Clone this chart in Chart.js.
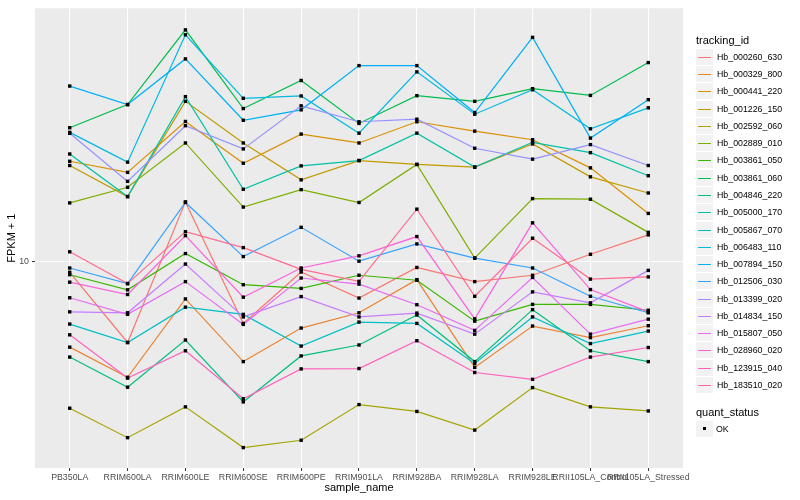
<!DOCTYPE html>
<html>
<head>
<meta charset="utf-8">
<script src="https://cdn.jsdelivr.net/npm/chart.js@4.4.1/dist/chart.umd.min.js"></script>
<style>
  body { margin: 0; background: #fff; }
  #wrap { position: relative; width: 800px; height: 500px; font-family: "Liberation Sans", Arial, sans-serif; }
  #plot { position: absolute; left: 0; top: 0; }
  .ltitle { position: absolute; left: 696px; font-size: 11px; line-height: 13px; color: #000; white-space: nowrap; }
  .key { position: absolute; left: 696px; width: 17px; height: 16px; background: #F2F2F2; }
  .key span { position: absolute; left: 2px; right: 2px; top: 8px; height: 1px; }
  .key i { position: absolute; left: 7px; top: 6px; width: 3px; height: 3px; background: #000; }
  .ltext { position: absolute; left: 717px; font-size: 8.8px; line-height: 10px; color: #000; white-space: nowrap; }
</style>
</head>
<body>
<div id="wrap">
  <canvas id="plot" width="800" height="500"></canvas>
  <div id="legend"></div>
</div>
<script>
const samples = ["PB350LA", "RRIM600LA", "RRIM600LE", "RRIM600SE", "RRIM600PE", "RRIM901LA",
    "RRIM928BA", "RRIM928LA", "RRIM928LE", "RRII105LA_Control", "RRII105LA_Stressed"];

const trackingIds = ["Hb_000260_630", "Hb_000329_800", "Hb_000441_220", "Hb_001226_150", "Hb_002592_060",
    "Hb_002889_010", "Hb_003861_050", "Hb_003861_060", "Hb_004846_220", "Hb_005000_170",
    "Hb_005867_070", "Hb_006483_110", "Hb_007894_150", "Hb_012506_030", "Hb_013399_020",
    "Hb_014834_150", "Hb_015807_050", "Hb_028960_020", "Hb_123915_040", "Hb_183510_020"];

// ggplot default hue palette, 20 levels
const hueColors = ["#F8766D", "#EA8331", "#D89000", "#C09B00", "#A3A500", "#7CAE00", "#39B600", "#00BB4E",
    "#00BF7D", "#00C1A3", "#00BFC4", "#00BAE0", "#00B0F6", "#35A2FF", "#9590FF", "#C77CFF",
    "#E76BF3", "#FA62DB", "#FF62BC", "#FF6C91"];

// FPKM + 1, one value per sample
const hb000260_630 = [9.59, 7.31, 12.59, 7.87, 9.60, 8.68, 9.77, 9.25, 9.48, 10.28, 11.08];
const hb000329_800 = [7.18, 6.39, 8.65, 6.79, 7.73, 8.20, 9.32, 6.64, 7.79, 7.45, 7.80];
const hb000441_220 = [14.73, 14.11, 17.18, 14.62, 16.36, 15.81, 17.16, 16.55, 16.01, 14.36, 12.04];
const hb001226_150 = [14.49, 12.85, 18.57, 15.81, 13.71, 14.77, 14.55, 14.40, 15.75, 13.87, 13.03];
const hb002592_060 = [5.67, 5.06, 5.70, 4.87, 5.01, 5.75, 5.60, 5.21, 6.14, 5.70, 5.61];
const hb002889_010 = [12.54, 13.32, 15.81, 12.34, 13.20, 12.56, 14.55, 10.13, 12.75, 12.72, 11.19];
const hb003861_050 = [9.50, 8.96, 10.31, 9.14, 9.01, 9.48, 9.30, 7.94, 8.47, 8.47, 8.28];
const hb003861_060 = [16.77, 18.34, 24.48, 18.06, 20.13, 17.05, 18.98, 18.57, 19.50, 19.00, 21.57];
const hb004846_220 = [6.91, 6.15, 7.38, 5.81, 6.94, 7.24, 8.13, 6.79, 8.30, 7.08, 6.79];
const hb005000_170 = [15.15, 12.85, 18.91, 13.22, 14.47, 14.77, 16.42, 14.40, 15.85, 15.23, 13.93];
const hb005867_070 = [7.85, 7.31, 8.38, 8.15, 7.21, 7.91, 7.87, 6.74, 8.07, 7.28, 7.64];
const hb006483_110 = [16.47, 14.68, 24.02, 18.79, 18.96, 16.42, 20.81, 17.67, 19.42, 16.70, 18.11];
const hb007894_150 = [19.70, 18.34, 21.88, 17.26, 17.97, 21.32, 21.32, 17.78, 23.78, 16.11, 18.69];
const hb012506_030 = [9.75, 9.18, 12.56, 10.19, 11.41, 10.01, 10.70, 10.13, 9.75, 8.74, 8.20];
const hb013399_020 = [16.41, 13.63, 16.90, 15.45, 18.25, 17.16, 17.33, 15.49, 14.85, 15.71, 14.49];
const hb014834_150 = [8.23, 8.20, 9.90, 8.07, 8.73, 8.07, 8.19, 7.55, 8.89, 8.52, 9.66];
const hb015807_050 = [8.69, 8.15, 9.25, 7.84, 9.38, 9.16, 8.46, 7.66, 9.40, 7.55, 8.00];
const hb028960_020 = [9.23, 8.80, 11.05, 8.71, 9.75, 10.22, 11.01, 8.01, 11.61, 8.97, 8.23];
const hb123915_040 = [7.53, 6.37, 7.08, 5.88, 6.60, 6.61, 7.36, 6.51, 6.34, 6.91, 7.17];
const hb183510_020 = [10.38, 9.18, 11.22, 10.55, 9.70, 9.26, 12.24, 8.74, 10.94, 9.34, 9.42];

const seriesValues = [hb000260_630, hb000329_800, hb000441_220, hb001226_150, hb002592_060,
    hb002889_010, hb003861_050, hb003861_060, hb004846_220, hb005000_170,
    hb005867_070, hb006483_110, hb007894_150, hb012506_030, hb013399_020,
    hb014834_150, hb015807_050, hb028960_020, hb123915_040, hb183510_020];

const yTicks = [10];
const statusLabels = ["OK"];

const datasets = trackingIds.map((id, i) => ({
    label: id,
    data: seriesValues[i].map((v, j) => ({x: j + 1, y: v})),
    borderColor: hueColors[i],
    borderWidth: 1.2,
    pointRadius: 0,
    fill: false,
    tension: 0,
    order: -i
}));

const panelBg = {
    id: "panelBg",
    beforeDraw(chart) {
        const {ctx, chartArea: a} = chart;
        ctx.save();
        ctx.fillStyle = "#EBEBEB";
        ctx.fillRect(a.left, a.top, a.right - a.left, a.bottom - a.top);
        ctx.restore();
    }
};

// points on top of every line, like geom_point after geom_line
const statusPoints = {
    id: "statusPoints",
    afterDatasetsDraw(chart) {
        const ctx = chart.ctx;
        ctx.save();
        ctx.fillStyle = "#000";
        chart.data.datasets.forEach((d, i) => {
            chart.getDatasetMeta(i).data.forEach(pt => {
                ctx.fillRect(pt.x - 1.7, pt.y - 1.7, 3.4, 3.4);
            });
        });
        ctx.restore();
    }
};

Chart.defaults.font.family = '"Liberation Sans", Arial, sans-serif';

new Chart(document.querySelector("#plot"), {
    type: "line",
    data: {datasets: datasets},
    options: {
        responsive: false,
        animation: false,
        events: [],
        layout: {padding: {left: 0, right: 117, top: 5, bottom: 0}},
        scales: {
            x: {
                type: "linear",
                min: 0.4,
                max: 11.6,
                bounds: "data",
                afterBuildTicks: scale => { scale.ticks = samples.map((s, i) => ({value: i + 1})); },
                afterFit: scale => { scale.height = 32; },
                grid: {color: "#FFFFFF", lineWidth: 1.1, tickLength: 3, tickColor: "#333333", tickWidth: 1},
                border: {display: false},
                ticks: {
                    autoSkip: false, maxRotation: 0, minRotation: 0, padding: 1,
                    color: "#4D4D4D", font: {size: 8.8},
                    callback: v => samples[v - 1]
                },
                title: {display: true, text: "sample_name", color: "#000", font: {size: 11}, padding: {top: 0, bottom: 5}}
            },
            y: {
                type: "logarithmic",
                min: 4.5,
                max: 26.61,
                bounds: "data",
                afterBuildTicks: scale => { scale.ticks = yTicks.map(v => ({value: v})); },
                afterFit: scale => { scale.width = 35; },
                grid: {color: "#FFFFFF", lineWidth: 1.1, tickLength: 3, tickColor: "#333333", tickWidth: 1},
                border: {display: false},
                ticks: {padding: 3, color: "#4D4D4D", font: {size: 8.8}, callback: v => String(v)},
                title: {display: true, text: "FPKM + 1", color: "#000", font: {size: 11}, padding: {top: 5, bottom: 0}}
            }
        },
        plugins: {
            legend: {display: false},
            tooltip: {enabled: false}
        }
    },
    plugins: [panelBg, statusPoints]
});

// ggplot-like legend on the right
const legend = document.querySelector("#legend");
const rowTop = 48.7, rowStep = 17.28;
let html = '<div class="ltitle" style="top:34px">tracking_id</div>';
trackingIds.forEach((id, i) => {
    const top = Math.round(rowTop + rowStep * i);
    html += '<div class="key" style="top:' + top + 'px"><span style="background:' + hueColors[i] + '"></span></div>';
    html += '<div class="ltext" style="top:' + (top + 3) + 'px">' + id + '</div>';
});
html += '<div class="ltitle" style="top:406px">quant_status</div>';
statusLabels.forEach((s, i) => {
    const top = Math.round(420.5 + rowStep * i);
    html += '<div class="key" style="top:' + top + 'px"><i></i></div>';
    html += '<div class="ltext" style="left:716px;top:' + (top + 3) + 'px">' + s + '</div>';
});
legend.innerHTML = html;
</script>
</body>
</html>
